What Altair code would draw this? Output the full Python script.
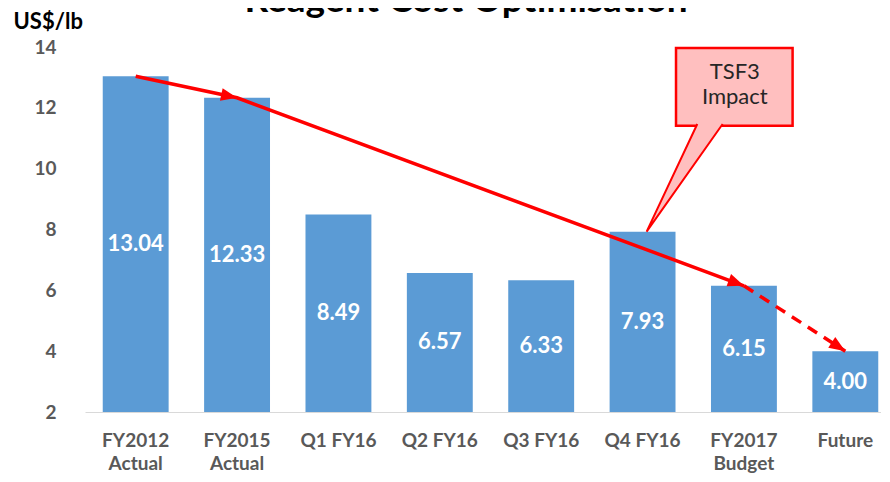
import math
import altair as alt
import pandas as pd

# ---------------- data ----------------
cats = ["FY2012\nActual", "FY2015\nActual", "Q1 FY16", "Q2 FY16", "Q3 FY16",
        "Q4 FY16", "FY2017\nBudget", "Future"]
vals = [13.04, 12.33, 8.49, 6.57, 6.33, 7.93, 6.15, 4.00]

trend_cats = ["FY2012\nActual", "FY2015\nActual", "FY2017\nBudget"]   # solid arrow
proj_cats = ["FY2017\nBudget", "Future"]                               # dashed arrow

callout_text = "TSF3\nImpact"
box_x = [5.83, 6.98]          # callout box, in category units
box_y = [11.41, 13.97]        # callout box, in US$/lb
tail_x = [6.04, 5.54, 6.29]   # callout pointer (base-left, tip, base-right)
tail_y = [11.47, 7.93, 11.47]
label_pos = [6.41, 13.18]

Y_MIN, Y_MAX = 2, 14
TITLE = "Reagent Cost Optimisation"
Y_TITLE = "US$/lb"

# ---------------- layout ----------------
W, H = 796, 365
X_RANGE = 811
FONT = "Lato"
BLUE = "#5B9BD5"
GREY = "#595959"
RED = "#FF0000"

px_x = X_RANGE / len(cats)
px_y = H / (Y_MAX - Y_MIN)

def xpos(c):
    return cats.index(c) + 0.5

def yval(c):
    return vals[cats.index(c)]

bars_df = pd.DataFrame({"cat": cats, "value": vals})

y_scale = alt.Scale(domain=[Y_MIN, Y_MAX], nice=False, zero=False)
band_scale = alt.Scale(range=[0, X_RANGE], paddingInner=0.35, paddingOuter=0.175)
q_scale = alt.Scale(domain=[0, len(cats)], range=[0, X_RANGE], nice=False, zero=False)

x_axis = alt.Axis(labelExpr="split(datum.value, '\\n')", labelAngle=0, labelFont=FONT,
                  labelFontSize=19, labelFontWeight="bold", labelColor=GREY,
                  labelLineHeight=23, labelPadding=19, ticks=False,
                  domainColor="#D9D9D9", domainWidth=1, title=None)
y_axis = alt.Axis(values=list(range(Y_MIN, Y_MAX + 1, 2)), labelFont=FONT, labelFontSize=19,
                  labelFontWeight="bold", labelColor=GREY, labelPadding=29,
                  ticks=False, domain=False, grid=False,
                  title=Y_TITLE, titleAngle=0, titleX=-72, titleY=-19, titleAlign="left",
                  titleBaseline="alphabetic", titleFont=FONT, titleFontSize=22,
                  titleFontWeight="bold", titleColor="black")

bars = alt.Chart(bars_df).mark_bar(color=BLUE).encode(
    x=alt.X("cat:N", sort=cats, scale=band_scale, axis=x_axis),
    y=alt.Y("value:Q", scale=y_scale, axis=y_axis),
    y2=alt.datum(Y_MIN),
)

labels = alt.Chart(bars_df).transform_calculate(
    mid=f"(datum.value + {Y_MIN}) / 2"
).mark_text(font=FONT, fontSize=22, fontWeight="bold", color="white", baseline="middle").encode(
    x=alt.X("cat:N", sort=cats, scale=band_scale, axis=None),
    y=alt.Y("mid:Q", scale=y_scale),
    text=alt.Text("value:Q", format=".2f"),
)

def seg_df(cs):
    return pd.DataFrame({"x": [xpos(c) for c in cs], "y": [yval(c) for c in cs],
                         "o": list(range(len(cs)))})

solid = alt.Chart(seg_df(trend_cats)).mark_line(color=RED, strokeWidth=3.5).encode(
    x=alt.X("x:Q", scale=q_scale, axis=None),
    y=alt.Y("y:Q", scale=y_scale),
    order="o:Q",
)
dashed = alt.Chart(seg_df(proj_cats)).mark_line(color=RED, strokeWidth=3.5,
                                                strokeDash=[11, 8]).encode(
    x=alt.X("x:Q", scale=q_scale, axis=None),
    y=alt.Y("y:Q", scale=y_scale),
    order="o:Q",
)

# arrow heads: at each target point, rotated along the incoming segment
head_rows = []
path = trend_cats + proj_cats[1:]
for a, b in zip(path[:-1], path[1:]):
    dx = (xpos(b) - xpos(a)) * px_x
    dy = (yval(a) - yval(b)) * px_y
    head_rows.append({"x": xpos(b), "y": yval(b), "ang": math.degrees(math.atan2(dy, dx))})
heads = alt.Chart(pd.DataFrame(head_rows)).mark_point(
    shape="M0,0L-2,-0.8L-2,0.8Z", filled=True, color=RED, size=260, opacity=1
).encode(
    x=alt.X("x:Q", scale=q_scale, axis=None),
    y=alt.Y("y:Q", scale=y_scale),
    angle=alt.Angle("ang:Q", scale=None),
)

box = alt.Chart(pd.DataFrame({"x": [box_x[0]], "x2": [box_x[1]],
                              "y": [box_y[0]], "y2": [box_y[1]]})).mark_rect(
    fill="#FFBFBF", stroke=RED, strokeWidth=2.5
).encode(
    x=alt.X("x:Q", scale=q_scale, axis=None), x2="x2:Q",
    y=alt.Y("y:Q", scale=y_scale), y2="y2:Q",
)

tail = alt.Chart(pd.DataFrame({"x": tail_x, "y": tail_y, "o": [0, 1, 2]})).mark_line(
    fill="#FFBFBF", stroke=RED, strokeWidth=2, strokeJoin="miter"
).encode(
    x=alt.X("x:Q", scale=q_scale, axis=None),
    y=alt.Y("y:Q", scale=y_scale),
    order="o:Q",
)

note = alt.Chart(pd.DataFrame({"x": [label_pos[0]], "y": [label_pos[1]],
                               "t": [callout_text]})).mark_text(
    font=FONT, fontSize=22, color="#262626", lineBreak="\n", lineHeight=25, baseline="middle"
).encode(
    x=alt.X("x:Q", scale=q_scale, axis=None),
    y=alt.Y("y:Q", scale=y_scale),
    text="t:N",
)

# chart title (only its lower part is visible, as in the reference)
title = alt.Chart(pd.DataFrame({"t": [TITLE]})).mark_text(
    font=FONT, fontSize=37, fontWeight="bold", color="black", baseline="alphabetic",
    align="center"
).encode(
    x=alt.value(381), y=alt.value(-35), text="t:N",
)

chart = alt.layer(bars, labels, box, tail, note, solid, dashed, heads, title).resolve_scale(
    x="independent"
).properties(
    width=W, height=H,
    padding={"left": 77, "top": 39, "right": 0, "bottom": 62},
    autosize=alt.AutoSizeParams(type="none"),
).configure_view(stroke=None)

chart.save("out.html", embed_options={"renderer": "svg", "actions": False})
